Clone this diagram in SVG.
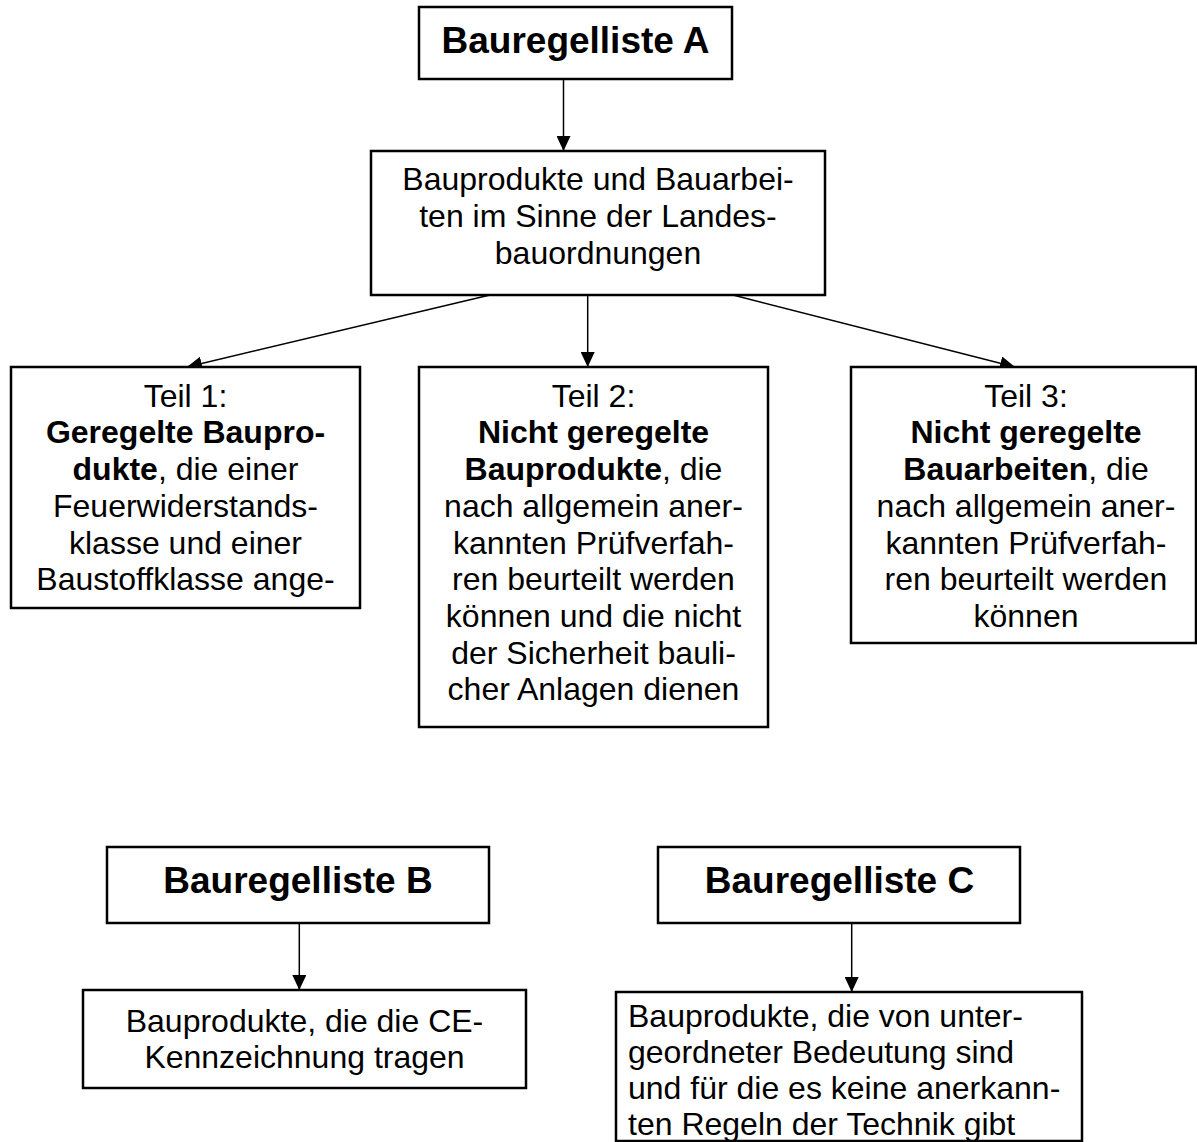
<svg xmlns="http://www.w3.org/2000/svg" width="1197" height="1142" viewBox="0 0 1197 1142">
<defs>
<style>
.box{fill:#fff;stroke:#000;stroke-width:2.5}
.t{font-family:"Liberation Sans",Arial,sans-serif;font-size:32px;fill:#000;text-anchor:middle}
.l{text-anchor:start}
.h{font-family:"Liberation Sans",Arial,sans-serif;font-size:37px;font-weight:bold;fill:#000;text-anchor:middle}
.b{font-weight:bold}
.c{stroke:#000;stroke-width:1.5;fill:none;marker-end:url(#ah)}
</style>
<marker id="ah" markerUnits="userSpaceOnUse" markerWidth="16" markerHeight="14" refX="15" refY="7" orient="auto" viewBox="0 0 16 14">
<path d="M0,0 L15,7 L0,14 z" fill="#000"/>
</marker>
</defs>
<rect width="1197" height="1142" fill="#fff"/>
<g id="connectors">
<line class="c" x1="563.5" y1="80" x2="563.5" y2="151"/>
<line class="c" x1="490" y1="295" x2="187" y2="367"/>
<line class="c" x1="587.7" y1="296" x2="587.7" y2="367"/>
<line class="c" x1="733" y1="295" x2="1015" y2="367"/>
<line class="c" x1="299.3" y1="921" x2="299.3" y2="990"/>
<line class="c" x1="851.7" y1="921" x2="851.7" y2="992"/>
</g>
<g id="listeA">
<rect class="box" x="419" y="7" width="313" height="72"/>
<text class="h" x="575.5" y="53">Bauregelliste A</text>
</g>
<g id="bauprodukte">
<rect class="box" x="371" y="151" width="454" height="144"/>
<text class="t" x="598" y="190">Bauprodukte und Bauarbei-</text>
<text class="t" x="598" y="226.8">ten im Sinne der Landes-</text>
<text class="t" x="598" y="263.5">bauordnungen</text>
</g>
<g id="teil1">
<rect class="box" x="11" y="367" width="349" height="241"/>
<text class="t" x="185.5" y="406.7">Teil 1:</text>
<text class="t b" x="185.5" y="443.4">Geregelte Baupro-</text>
<text class="t" x="185.5" y="480.1"><tspan class="b">dukte</tspan>, die einer</text>
<text class="t" x="185.5" y="516.8">Feuerwiderstands-</text>
<text class="t" x="185.5" y="553.5">klasse und einer</text>
<text class="t" x="185.5" y="590.2">Baustoffklasse ange-</text>
</g>
<g id="teil2">
<rect class="box" x="419" y="367" width="349" height="360"/>
<text class="t" x="593.5" y="406.7">Teil 2:</text>
<text class="t b" x="593.5" y="443.4">Nicht geregelte</text>
<text class="t" x="593.5" y="480.1"><tspan class="b">Bauprodukte</tspan>, die</text>
<text class="t" x="593.5" y="516.8">nach allgemein aner-</text>
<text class="t" x="593.5" y="553.5">kannten Prüfverfah-</text>
<text class="t" x="593.5" y="590.2">ren beurteilt werden</text>
<text class="t" x="593.5" y="626.9">können und die nicht</text>
<text class="t" x="593.5" y="663.6">der Sicherheit bauli-</text>
<text class="t" x="593.5" y="700.3">cher Anlagen dienen</text>
</g>
<g id="teil3">
<rect class="box" x="851" y="367" width="345" height="276"/>
<text class="t" x="1026" y="406.7">Teil 3:</text>
<text class="t b" x="1026" y="443.4">Nicht geregelte</text>
<text class="t" x="1026" y="480.1"><tspan class="b">Bauarbeiten</tspan>, die</text>
<text class="t" x="1026" y="516.8">nach allgemein aner-</text>
<text class="t" x="1026" y="553.5">kannten Prüfverfah-</text>
<text class="t" x="1026" y="590.2">ren beurteilt werden</text>
<text class="t" x="1026" y="626.9">können</text>
</g>
<g id="listeB">
<rect class="box" x="107" y="847" width="382" height="76"/>
<text class="h" x="298" y="893">Bauregelliste B</text>
</g>
<g id="ce">
<rect class="box" x="83" y="990" width="443" height="98"/>
<text class="t" x="304.5" y="1031.7">Bauprodukte, die die CE-</text>
<text class="t" x="304.5" y="1068.3">Kennzeichnung tragen</text>
</g>
<g id="listeC">
<rect class="box" x="658" y="847" width="362" height="76"/>
<text class="h" x="839.5" y="893">Bauregelliste C</text>
</g>
<g id="untergeordnet">
<rect class="box" x="616" y="992" width="466" height="149"/>
<text class="t l" x="628" y="1026.5">Bauprodukte, die von unter-</text>
<text class="t l" x="628" y="1062.8">geordneter Bedeutung sind</text>
<text class="t l" x="628" y="1099">und für die es keine anerkann-</text>
<text class="t l" x="628" y="1135">ten Regeln der Technik gibt</text>
</g>
</svg>
